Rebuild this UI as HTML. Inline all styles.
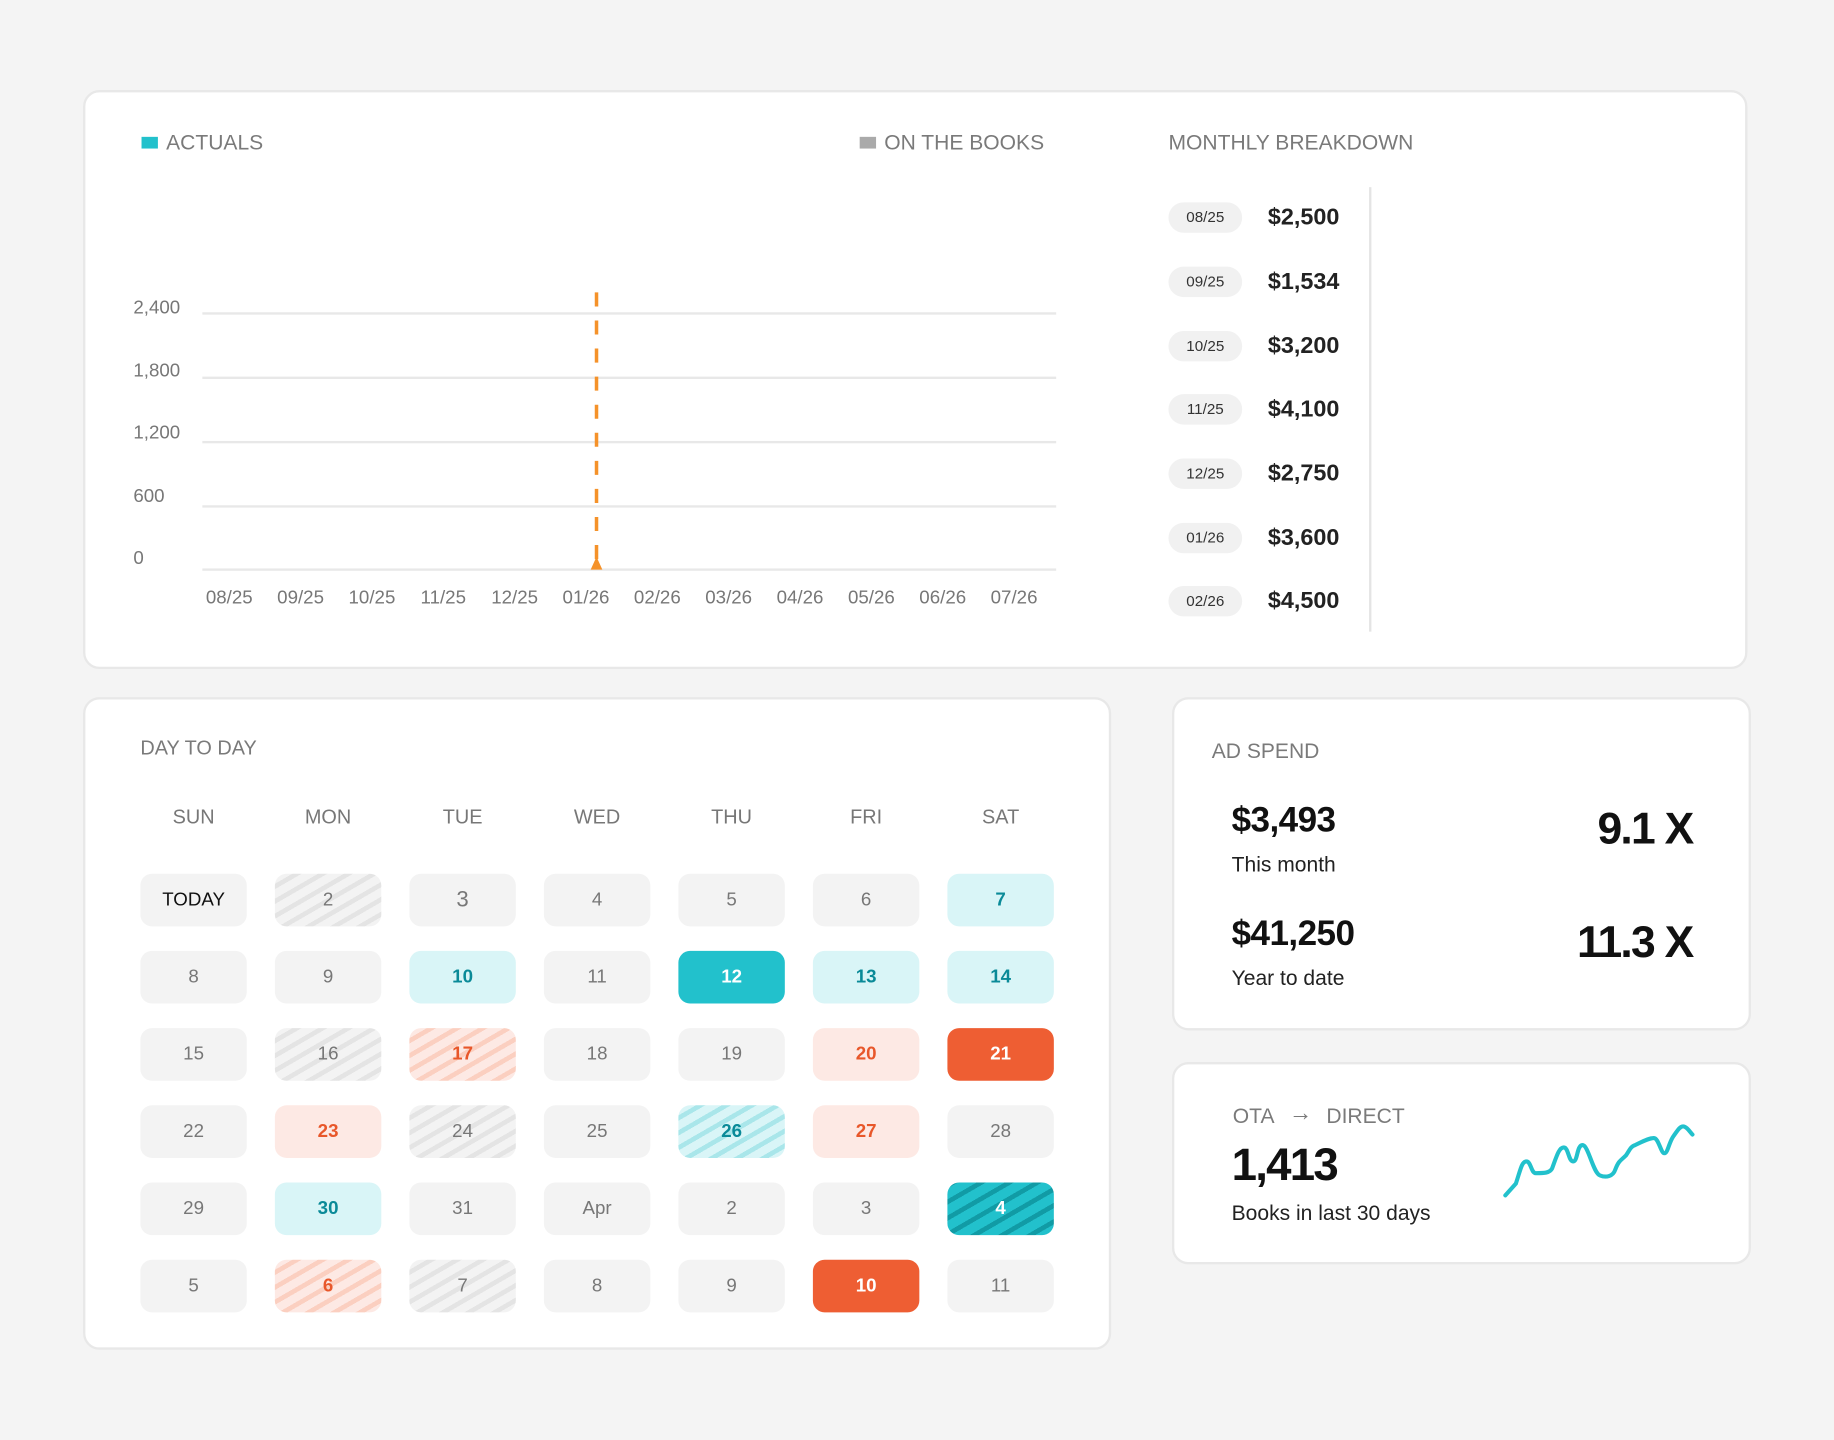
<!DOCTYPE html>
<html><head><meta charset="utf-8"><style>
html,body{margin:0;padding:0;background:#f4f4f4;}
body{width:1834px;height:1440px;overflow:hidden;font-family:"Liberation Sans",sans-serif;}
#w{position:absolute;left:0;top:0;width:1568px;height:1231px;transform:scale(1.16964);transform-origin:0 0;}
.card{position:absolute;background:#fff;border:2px solid #e8e8e8;border-radius:14px;box-sizing:border-box;}
.t{position:absolute;white-space:nowrap;}
.h{color:#7a7a7a;font-size:18px;}
.yl{position:absolute;left:114px;color:#777;font-size:16px;}
.xl{position:absolute;top:503px;color:#777;font-size:16px;width:60px;text-align:center;}
.g{position:absolute;left:173px;width:730px;height:2px;background:#e8e8e8;}
.pill{position:absolute;left:999px;width:63px;height:26px;border-radius:13px;background:#f1f1f1;font-size:13px;color:#333;text-align:center;line-height:26px;}
.amt{position:absolute;left:1084px;font-size:20px;color:#222;font-weight:bold;}
.c{position:absolute;width:91px;height:45px;border-radius:10px;background:#f3f3f3;color:#777;font-size:16px;text-align:center;line-height:45px;}
.dn{position:absolute;top:689px;width:91px;text-align:center;color:#777;font-size:17px;}
.hg{background:repeating-linear-gradient(-30deg,#f3f3f3 0 7px,#e4e4e4 7px 11px);}
.tl{background:#d9f5f7;color:#0a8a98;font-weight:bold;}
.ts{background:#22c1cc;color:#fff;font-weight:bold;}
.ol{background:#fde9e4;color:#e8572a;font-weight:bold;}
.os{background:#ee5e33;color:#fff;font-weight:bold;}
.oh{background:repeating-linear-gradient(-30deg,#fde9e4 0 7px,#fbcfc0 7px 11px);color:#e8572a;font-weight:bold;}
.th{background:repeating-linear-gradient(-30deg,#d9f5f7 0 7px,#a9e6ea 7px 11px);color:#0a8a98;font-weight:bold;}
.tdh{background:repeating-linear-gradient(-30deg,#22c1cc 0 8px,#119ba5 8px 12px);color:#fff;font-weight:bold;}
</style></head><body><div id="w">
<div class="card" style="left:71px;top:77px;width:1423px;height:495px;"></div>
<div style="position:absolute;left:121px;top:117px;width:14px;height:10px;background:#22c1cc"></div>
<div class="t h" style="left:142px;top:112px;">ACTUALS</div>
<div style="position:absolute;left:735px;top:117px;width:14px;height:10px;background:#aaa"></div>
<div class="t h" style="left:756px;top:112px;">ON THE BOOKS</div>
<div class="t h" style="left:999px;top:112px;">MONTHLY BREAKDOWN</div>
<div class="g" style="top:267px"></div><div class="g" style="top:322px"></div><div class="g" style="top:377px"></div><div class="g" style="top:432px"></div><div class="g" style="top:486px"></div>
<div class="yl" style="top:255px">2,400</div><div class="yl" style="top:309px">1,800</div><div class="yl" style="top:362px">1,200</div><div class="yl" style="top:416px">600</div><div class="yl" style="top:469px">0</div>
<div class="xl" style="left:166px">08/25</div><div class="xl" style="left:227px">09/25</div><div class="xl" style="left:288px">10/25</div><div class="xl" style="left:349px">11/25</div><div class="xl" style="left:410px">12/25</div><div class="xl" style="left:471px">01/26</div><div class="xl" style="left:532px">02/26</div><div class="xl" style="left:593px">03/26</div><div class="xl" style="left:654px">04/26</div><div class="xl" style="left:715px">05/26</div><div class="xl" style="left:776px">06/26</div><div class="xl" style="left:837px">07/26</div>
<div class="pill" style="top:173px">08/25</div><div class="amt" style="top:175px">$2,500</div>
<div class="pill" style="top:228px">09/25</div><div class="amt" style="top:230px">$1,534</div>
<div class="pill" style="top:283px">10/25</div><div class="amt" style="top:285px">$3,200</div>
<div class="pill" style="top:337px">11/25</div><div class="amt" style="top:339px">$4,100</div>
<div class="pill" style="top:392px">12/25</div><div class="amt" style="top:394px">$2,750</div>
<div class="pill" style="top:447px">01/26</div><div class="amt" style="top:449px">$3,600</div>
<div class="pill" style="top:501px">02/26</div><div class="amt" style="top:503px">$4,500</div>

<div class="card" style="left:71px;top:596px;width:879px;height:558px;"></div>
<div class="t h" style="left:120px;top:630px;font-size:17px;">DAY TO DAY</div>
<div class="dn" style="left:120px">SUN</div><div class="dn" style="left:235px">MON</div><div class="dn" style="left:350px">TUE</div><div class="dn" style="left:465px">WED</div><div class="dn" style="left:580px">THU</div><div class="dn" style="left:695px">FRI</div><div class="dn" style="left:810px">SAT</div>

<div class="c" style="left:120px;top:747px;color:#111;font-size:16px">TODAY</div>
<div class="c hg" style="left:235px;top:747px">2</div>
<div class="c" style="left:350px;top:747px;font-size:19px">3</div>
<div class="c" style="left:465px;top:747px">4</div>
<div class="c" style="left:580px;top:747px">5</div>
<div class="c" style="left:695px;top:747px">6</div>
<div class="c tl" style="left:810px;top:747px">7</div>

<div class="c" style="left:120px;top:813px">8</div>
<div class="c" style="left:235px;top:813px">9</div>
<div class="c tl" style="left:350px;top:813px">10</div>
<div class="c" style="left:465px;top:813px">11</div>
<div class="c ts" style="left:580px;top:813px">12</div>
<div class="c tl" style="left:695px;top:813px">13</div>
<div class="c tl" style="left:810px;top:813px">14</div>

<div class="c" style="left:120px;top:879px">15</div>
<div class="c hg" style="left:235px;top:879px">16</div>
<div class="c oh" style="left:350px;top:879px">17</div>
<div class="c" style="left:465px;top:879px">18</div>
<div class="c" style="left:580px;top:879px">19</div>
<div class="c ol" style="left:695px;top:879px">20</div>
<div class="c os" style="left:810px;top:879px">21</div>

<div class="c" style="left:120px;top:945px">22</div>
<div class="c ol" style="left:235px;top:945px">23</div>
<div class="c hg" style="left:350px;top:945px">24</div>
<div class="c" style="left:465px;top:945px">25</div>
<div class="c th" style="left:580px;top:945px">26</div>
<div class="c ol" style="left:695px;top:945px">27</div>
<div class="c" style="left:810px;top:945px">28</div>

<div class="c" style="left:120px;top:1011px">29</div>
<div class="c tl" style="left:235px;top:1011px">30</div>
<div class="c" style="left:350px;top:1011px">31</div>
<div class="c" style="left:465px;top:1011px">Apr</div>
<div class="c" style="left:580px;top:1011px">2</div>
<div class="c" style="left:695px;top:1011px">3</div>
<div class="c tdh" style="left:810px;top:1011px">4</div>

<div class="c" style="left:120px;top:1077px">5</div>
<div class="c oh" style="left:235px;top:1077px">6</div>
<div class="c hg" style="left:350px;top:1077px">7</div>
<div class="c" style="left:465px;top:1077px">8</div>
<div class="c" style="left:580px;top:1077px">9</div>
<div class="c os" style="left:695px;top:1077px">10</div>
<div class="c" style="left:810px;top:1077px">11</div>

<div class="card" style="left:1002px;top:596px;width:495px;height:285px;"></div>
<div class="t h" style="left:1036px;top:632px;font-size:18px;">AD SPEND</div>
<div class="t" style="left:1053px;top:685px;font-size:30px;font-weight:bold;color:#111;letter-spacing:-0.5px;">$3,493</div>
<div class="t" style="left:1053px;top:729px;font-size:18px;color:#222;">This month</div>
<div class="t" style="left:1053px;top:782px;font-size:30px;font-weight:bold;color:#111;letter-spacing:-0.5px;">$41,250</div>
<div class="t" style="left:1053px;top:826px;font-size:18px;color:#222;">Year to date</div>
<div class="t" style="right:121px;top:688px;font-size:38px;font-weight:bold;color:#111;letter-spacing:-1.5px;">9.1 X</div>
<div class="t" style="right:121px;top:785px;font-size:38px;font-weight:bold;color:#111;letter-spacing:-1.5px;">11.3 X</div>

<div class="card" style="left:1002px;top:908px;width:495px;height:173px;"></div>
<div class="t h" style="left:1054px;top:944px;font-size:18px;">OTA</div>
<div class="t h" style="left:1102px;top:941px;font-size:20px;">→</div>
<div class="t h" style="left:1134px;top:944px;font-size:18px;">DIRECT</div>
<div class="t" style="left:1053px;top:975px;font-size:39px;font-weight:bold;color:#111;letter-spacing:-1.5px;">1,413</div>
<div class="t" style="left:1053px;top:1027px;font-size:18px;color:#222;">Books in last 30 days</div>

<svg style="position:absolute;left:0;top:0" width="1568" height="1231">
<line x1="510" y1="250" x2="510" y2="482" stroke="#f5922a" stroke-width="3" stroke-dasharray="12,12"/>
<polygon points="505,487 515,487 510,476" fill="#f5922a"/>
<line x1="1171.5" y1="160" x2="1171.5" y2="540" stroke="#e4e4e4" stroke-width="2"/>
<path fill="none" stroke="#22c1cc" stroke-width="3.5" stroke-linejoin="round" stroke-linecap="round" d="M1287,1022 L1296,1012 C1300,1000 1301,993 1305,993 C1309,993 1309,1003 1313,1003 C1320,1003 1325,1003 1327,999 C1331,988 1333,981 1337,981 C1341,981 1341,993 1345,993 C1349,993 1348,979 1353,979 C1358,979 1362,1003 1368,1005 C1373,1007 1379,1006 1381,1000 C1384,992 1386,992 1390,988 C1393,984 1394,980 1398,979 C1404,976 1410,973 1414,973 C1418,973 1420,986 1423,986 C1426,986 1427,976 1431,971 C1434,967 1436,963 1439,963 C1442,963 1445,968 1447,970"/>
</svg>
</div></body></html>
